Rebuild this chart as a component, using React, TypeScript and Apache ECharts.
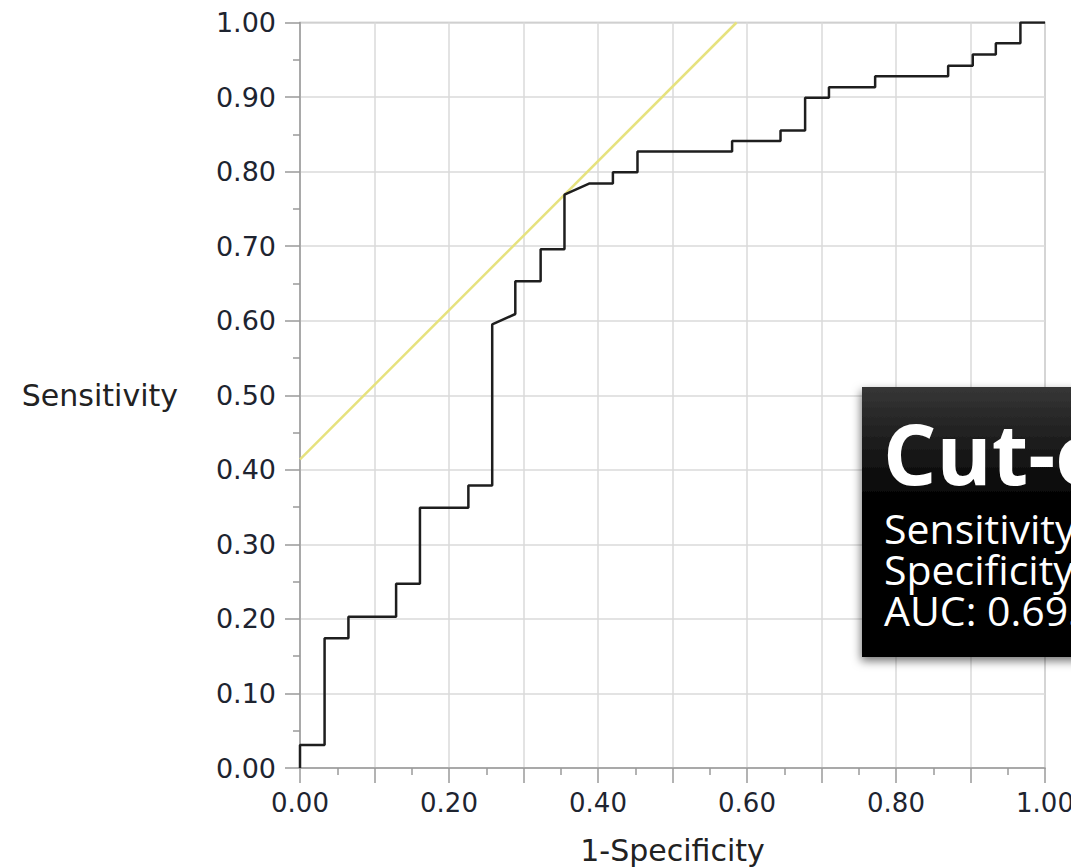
import React, { useEffect, useRef } from "react";
import * as echarts from "echarts";

// ROC curve vertices (1-Specificity, Sensitivity)
const rocFpr = [
  0, 0, 0.033, 0.033, 0.065, 0.065, 0.129, 0.129, 0.161, 0.161, 0.226, 0.226,
  0.258, 0.258, 0.289, 0.289, 0.323, 0.323, 0.355, 0.355, 0.388, 0.42, 0.42,
  0.453, 0.453, 0.58, 0.58, 0.645, 0.645, 0.678, 0.678, 0.71, 0.71, 0.772,
  0.772, 0.87, 0.87, 0.903, 0.903, 0.934, 0.934, 0.967, 0.967, 1.0,
];
const rocTpr = [
  0, 0.031, 0.031, 0.174, 0.174, 0.203, 0.203, 0.247, 0.247, 0.349, 0.349,
  0.379, 0.379, 0.595, 0.609, 0.653, 0.653, 0.696, 0.696, 0.769, 0.784, 0.784,
  0.799, 0.799, 0.827, 0.827, 0.841, 0.841, 0.855, 0.855, 0.899, 0.899, 0.913,
  0.913, 0.928, 0.928, 0.942, 0.942, 0.957, 0.957, 0.972, 0.972, 1.0, 1.0,
];

// Tangent line through the cut-off point
const tangentX = [0, 0.586];
const tangentY = [0.414, 1.0];

const boxLines = ["Sensitivity: 0.769", "Specificity: 0.645", "AUC: 0.695"];
const boxTitle = "Cut-off";

const FONT = "DejaVu Sans";

export default function App() {
  const ref = useRef<HTMLDivElement>(null);

  useEffect(() => {
    if (!ref.current) return;
    const chart = echarts.init(ref.current, undefined, { renderer: "svg" });
    const roc = rocFpr.map((x, i) => [x, rocTpr[i]]);
    const tangent = tangentX.map((x, i) => [x, tangentY[i]]);

    chart.setOption({
      animation: false,
      backgroundColor: "#ffffff",
      grid: {
        left: 300,
        top: 22.5,
        width: 745,
        height: 745.5,
        containLabel: false,
        outerBoundsMode: "none",
        show: true,
        borderColor: "#b4b4b4",
        borderWidth: 1.5,
        backgroundColor: "transparent",
      },
      xAxis: {
        type: "value",
        min: 0,
        max: 1,
        interval: 0.1,
        name: "1-Specificity",
        nameLocation: "middle",
        nameGap: 82,
        nameTextStyle: {
          fontFamily: FONT,
          fontSize: 30,
          color: "#222",
          verticalAlign: "middle",
        },
        axisLine: { lineStyle: { color: "#9a9a9a", width: 1.5 } },
        axisTick: { length: 15, lineStyle: { color: "#9a9a9a", width: 1.5 } },
        minorTick: {
          show: true,
          splitNumber: 2,
          length: 7,
          lineStyle: { color: "#9a9a9a", width: 1.5 },
        },
        axisLabel: {
          margin: 22,
          fontFamily: FONT,
          fontSize: 26,
          color: "#1e2430",
          formatter: (v: number) =>
            Math.round(v * 10) % 2 === 0 ? v.toFixed(2) : "",
        },
        splitLine: { lineStyle: { color: "#dadada", width: 1.5 } },
      },
      yAxis: {
        type: "value",
        min: 0,
        max: 1,
        interval: 0.1,
        name: "Sensitivity",
        nameLocation: "middle",
        nameRotate: 0,
        nameGap: 122,
        nameTextStyle: {
          fontFamily: FONT,
          fontSize: 30,
          color: "#222",
          align: "right",
          verticalAlign: "middle",
        },
        axisLine: { show: true, lineStyle: { color: "#9a9a9a", width: 1.5 } },
        axisTick: { show: true, length: 15, lineStyle: { color: "#9a9a9a", width: 1.5 } },
        minorTick: {
          show: true,
          splitNumber: 2,
          length: 7,
          lineStyle: { color: "#9a9a9a", width: 1.5 },
        },
        axisLabel: {
          margin: 24,
          fontFamily: FONT,
          fontSize: 27,
          color: "#1e2430",
          formatter: (v: number) => v.toFixed(2),
        },
        splitLine: { lineStyle: { color: "#dadada", width: 1.5 } },
      },
      series: [
        {
          type: "line",
          data: tangent,
          showSymbol: false,
          lineStyle: { color: "#e6e27e", width: 2.5 },
          z: 2,
        },
        {
          type: "line",
          data: roc,
          showSymbol: false,
          lineStyle: { color: "#1e1e1e", width: 2.5 },
          z: 3,
        },
      ],
      graphic: [
        {
          type: "rect",
          z: 100,
          shape: { x: 862, y: 387, width: 260, height: 270 },
          style: {
            fill: {
              type: "linear",
              x: 0,
              y: 0,
              x2: 0,
              y2: 1,
              colorStops: [
                { offset: 0, color: "#363636" },
                { offset: 0.4, color: "#050505" },
                { offset: 1, color: "#000000" },
              ],
            },
            shadowBlur: 10,
            shadowColor: "rgba(0,0,0,0.55)",
            shadowOffsetX: -1,
            shadowOffsetY: 4,
          },
        },
        {
          type: "text",
          z: 101,
          x: 883,
          y: 452,
          style: {
            text: boxTitle,
            fontFamily: "Open Sans",
            fontWeight: "bold",
            fontSize: 84,
            fill: "#ffffff",
            textAlign: "left",
            textVerticalAlign: "middle",
          },
        },
        ...boxLines.map((t, i) => ({
          type: "text",
          z: 101,
          x: 884,
          y: 528 + i * 41,
          style: {
            text: t,
            fontFamily: "Open Sans",
            fontSize: 41,
            lineHeight: 41,
            fill: "#ffffff",
            textAlign: "left",
            textVerticalAlign: "middle",
          },
        })),
      ],
    });

    return () => chart.dispose();
  }, []);

  return (
    <div
      ref={ref}
      style={{
        position: "fixed",
        left: 0,
        top: 0,
        width: 1071,
        height: 868,
        background: "#fff",
      }}
    />
  );
}
